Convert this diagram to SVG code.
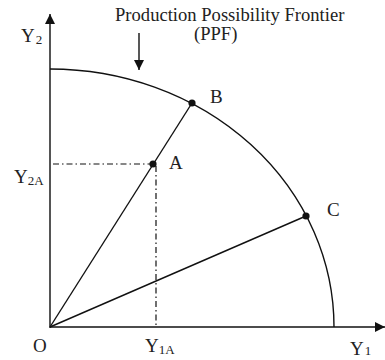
<svg xmlns="http://www.w3.org/2000/svg" width="385" height="360" viewBox="0 0 385 360">
<style>
text{font-family:"Liberation Serif","Times New Roman",serif;fill:#222}
.lbl{font-size:19px}
.sub{font-size:13px}
.ln{stroke:#111;stroke-width:1.4;fill:none}
.dd{stroke:#111;stroke-width:1.2;fill:none;stroke-dasharray:6 3 1.5 3}
.dot{fill:#111}
</style>
<defs>
<marker id="ah" viewBox="0 0 10 10" refX="10" refY="5" markerWidth="10" markerHeight="10" markerUnits="userSpaceOnUse" orient="auto">
<path d="M0,0 L10,5 L0,10 z" fill="#111"/>
</marker>
</defs>
<g id="axes">
<line x1="50" y1="328" x2="50" y2="14" stroke="#555" stroke-width="2" marker-end="url(#ah)"/>
<line x1="50" y1="327" x2="385" y2="327" stroke="#111" stroke-width="1.6" marker-end="url(#ah)"/>
</g>
<g id="ppf">
<path class="ln" d="M50,69 A284,258 0 0 1 334,327"/>
</g>
<g id="connectors">
<line class="ln" x1="50" y1="327" x2="192" y2="103"/>
<line class="ln" x1="50" y1="327" x2="306" y2="216"/>
<line class="dd" x1="53" y1="164" x2="153" y2="164"/>
<line class="dd" x1="156" y1="166" x2="156" y2="327"/>
<line x1="139" y1="33" x2="139" y2="70" stroke="#111" stroke-width="1.4" marker-end="url(#ah)"/>
</g>
<g id="A"><circle class="dot" cx="153" cy="164" r="3.6"/><text class="lbl" x="169" y="169">A</text></g>
<g id="B"><circle class="dot" cx="192" cy="103" r="3.6"/><text class="lbl" x="210" y="103">B</text></g>
<g id="C"><circle class="dot" cx="306" cy="216" r="3.6"/><text class="lbl" x="327" y="216">C</text></g>
<g id="title">
<text x="115" y="21" font-size="18.6">Production Possibility Frontier</text>
<text x="194" y="40" font-size="18.6">(PPF)</text>
</g>
<g id="labels">
<text class="lbl" x="21" y="42">Y<tspan class="sub" dx="1" dy="2">2</tspan></text>
<text class="lbl" x="14" y="183">Y<tspan class="sub" dy="2">2A</tspan></text>
<text class="lbl" x="33" y="352">O</text>
<text class="lbl" x="145" y="352">Y<tspan class="sub" dy="2">1A</tspan></text>
<text class="lbl" x="350" y="355">Y<tspan class="sub" dx="1" dy="0">1</tspan></text>
</g>
</svg>
